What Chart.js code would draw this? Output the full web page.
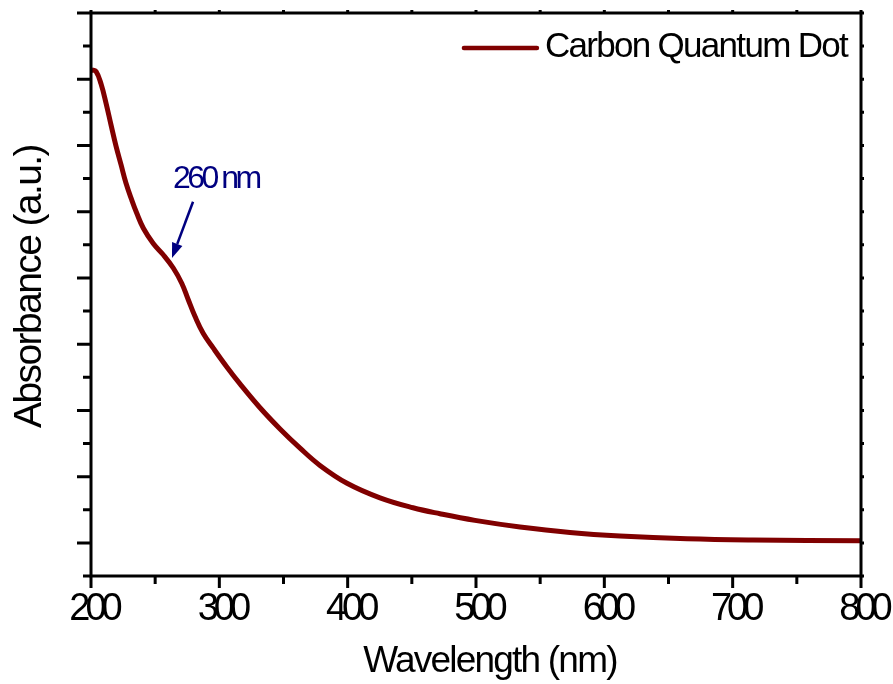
<!DOCTYPE html>
<html>
<head>
<meta charset="utf-8">
<script src="https://cdn.jsdelivr.net/npm/chart.js@4.4.1/dist/chart.umd.min.js"></script>
<style>
  html, body { margin: 0; padding: 0; background: #fff; }
  canvas { display: block; }
</style>
</head>
<body>
<canvas id="chart" width="893" height="684"></canvas>
<script>
// UV-Vis absorbance spectrum (arbitrary units, one unit per major y tick)
const wavelength = [200.5, 203.9, 207.8, 211.7, 215.6, 219.5, 223.4, 227.3, 231.7, 235.6, 240.8,
  248.5, 256.3, 264.1, 270.7, 275.8, 281.0, 287.5, 295.3, 305.7, 316.1, 331.7, 347.3, 362.9,
  378.4, 399.5, 425.2, 450.9, 471.9, 499.2, 534.3, 573.2, 612.2, 664.4, 715.8, 800];
const absorbance = [7.14, 7.12, 6.93, 6.64, 6.31, 5.99, 5.71, 5.43, 5.18, 4.98, 4.75,
  4.52, 4.35, 4.15, 3.92, 3.67, 3.42, 3.16, 2.94, 2.66, 2.40, 2.04, 1.72, 1.43,
  1.17, 0.90, 0.68, 0.53, 0.44, 0.34, 0.24, 0.157, 0.104, 0.062, 0.044, 0.033];
const xTicks = [200, 300, 400, 500, 600, 700, 800];
const seriesName = 'Carbon Quantum Dot';
const xTitle = 'Wavelength (nm)';
const yTitle = 'Absorbance (a.u.)';

// peak note: text anchor and arrow, in data units
const peakLabel = '260 nm';
const peakText = { x: 263.9, y: 5.36 };
const peakArrow = { from: { x: 279.5, y: 5.15 }, to: { x: 263.1, y: 4.30 } };

const ink = '#000';
const wine = '#800000';
const navy = '#000080';
const sans = "'Liberation Sans', Arial, sans-serif";

function text(ctx, str, x, y, size, spacing, align) {
  ctx.font = `${size}px ${sans}`;
  ctx.letterSpacing = `${spacing}px`;
  ctx.textAlign = align;
  ctx.textBaseline = 'alphabetic';
  ctx.fillText(str, x, y);
}

// frame, tick marks, axis lettering, legend and the peak note
const decorations = {
  id: 'decorations',
  afterDatasetsDraw(chart) {
    const { ctx, chartArea: a, scales: { x, y } } = chart;
    ctx.save();

    ctx.strokeStyle = ink;
    ctx.lineWidth = 3;
    ctx.lineCap = 'square';
    ctx.strokeRect(a.left, a.top, a.right - a.left, a.bottom - a.top);

    ctx.lineCap = 'butt';
    ctx.beginPath();
    for (let v = 200; v <= 800; v += 50) {
      const px = x.getPixelForValue(v);
      const major = v % 100 === 0;
      ctx.moveTo(px, a.bottom);
      ctx.lineTo(px, a.bottom + (major ? 12 : 8));
      ctx.moveTo(px, a.top);
      ctx.lineTo(px, a.top - 3);
    }
    for (let v = -0.5; v <= 8; v += 0.5) {
      const py = y.getPixelForValue(v);
      const major = Number.isInteger(v);
      ctx.moveTo(a.left, py);
      ctx.lineTo(a.left - (major ? 14 : 8), py);
      ctx.moveTo(a.right, py);
      ctx.lineTo(a.right + 3, py);
    }
    ctx.stroke();

    // tick labels and axis titles, set tight
    ctx.fillStyle = ink;
    x.ticks.forEach(t => {
      text(ctx, String(t.value), x.getPixelForValue(t.value) + 2.5, a.bottom + 44, 38, -5, 'center');
    });
    text(ctx, xTitle, (a.left + a.right) / 2 + 14, a.bottom + 96, 37, -1.8, 'center');
    ctx.save();
    ctx.translate(41, (a.top + a.bottom) / 2 - 8);
    ctx.rotate(-Math.PI / 2);
    text(ctx, yTitle, 0, 0, 39, -1.6, 'center');
    ctx.restore();

    // legend, top right inside the frame
    const ds = chart.data.datasets[0];
    ctx.font = `35px ${sans}`;
    ctx.letterSpacing = '-1.7px';
    const textX = a.right - 14 - ctx.measureText(ds.label).width;
    ctx.strokeStyle = ds.borderColor;
    ctx.lineWidth = 4.5;
    ctx.lineCap = 'round';
    ctx.beginPath();
    ctx.moveTo(textX - 81, a.top + 35);
    ctx.lineTo(textX - 8, a.top + 35);
    ctx.stroke();
    text(ctx, ds.label, textX, a.top + 44, 35, -1.7, 'left');

    // peak note
    ctx.fillStyle = navy;
    ctx.strokeStyle = navy;
    text(ctx, peakLabel, x.getPixelForValue(peakText.x), y.getPixelForValue(peakText.y), 32, -3.5, 'left');

    const x0 = x.getPixelForValue(peakArrow.from.x), y0 = y.getPixelForValue(peakArrow.from.y);
    const x1 = x.getPixelForValue(peakArrow.to.x), y1 = y.getPixelForValue(peakArrow.to.y);
    const ang = Math.atan2(y1 - y0, x1 - x0);
    const headLen = 15, headHalf = 5.5;
    const bx = x1 - headLen * Math.cos(ang), by = y1 - headLen * Math.sin(ang);
    ctx.lineWidth = 2.5;
    ctx.lineCap = 'butt';
    ctx.beginPath();
    ctx.moveTo(x0, y0);
    ctx.lineTo(bx, by);
    ctx.stroke();
    ctx.beginPath();
    ctx.moveTo(x1, y1);
    ctx.lineTo(bx + headHalf * Math.sin(ang), by - headHalf * Math.cos(ang));
    ctx.lineTo(bx - headHalf * Math.sin(ang), by + headHalf * Math.cos(ang));
    ctx.closePath();
    ctx.fill();

    ctx.restore();
  }
};

new Chart(document.getElementById('chart'), {
  type: 'line',
  data: {
    datasets: [{
      label: seriesName,
      data: wavelength.map((w, i) => ({ x: w, y: absorbance[i] })),
      borderColor: wine,
      borderWidth: 5,
      pointRadius: 0,
      tension: 0.4,
      fill: false
    }]
  },
  options: {
    responsive: false,
    animation: false,
    devicePixelRatio: 1,
    layout: { padding: { top: 13, right: 32, left: 0, bottom: 0 } },
    plugins: { legend: { display: false }, tooltip: { enabled: false } },
    scales: {
      x: {
        type: 'linear',
        min: 200,
        max: 800,
        afterFit: s => {
          s.height = 108;
          s.paddingLeft = 0;
          s.paddingRight = 0;
        },
        afterBuildTicks: s => { s.ticks = xTicks.map(v => ({ value: v })); },
        grid: { display: false, drawTicks: false },
        border: { display: false },
        ticks: { display: false }
      },
      y: {
        min: -0.5,
        max: 8,
        afterFit: s => { s.width = 91; },
        grid: { display: false, drawTicks: false },
        border: { display: false },
        ticks: { display: false }
      }
    }
  },
  plugins: [decorations]
});
</script>
</body>
</html>
